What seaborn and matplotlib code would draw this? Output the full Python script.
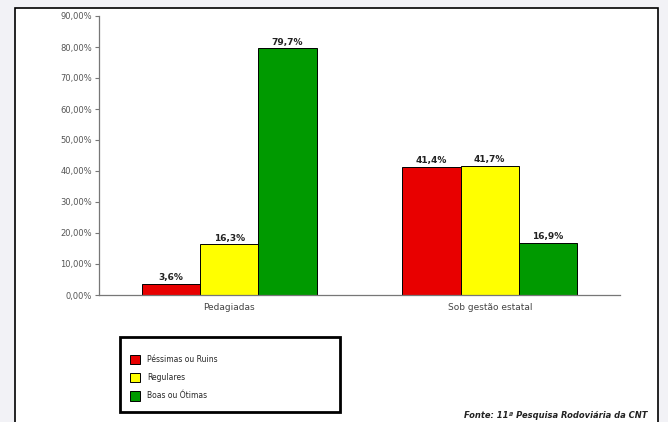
import matplotlib
matplotlib.use("Agg")
import matplotlib.pyplot as plt
import matplotlib.patches as mpatches
import pandas as pd
import seaborn as sns

categories = ["Pedagiadas", "Sob gestão estatal"]
conditions = ["Péssimas ou Ruins", "Regulares", "Boas ou Ótimas"]
pedagiadas = [3.6, 16.3, 79.7]
estatal = [41.4, 41.7, 16.9]
bar_labels = [["3,6%", "41,4%"], ["16,3%", "41,7%"], ["79,7%", "16,9%"]]
y_ticks = [0, 10, 20, 30, 40, 50, 60, 70, 80, 90]
colors = ["#e80000", "#ffff00", "#009a00"]

df = pd.DataFrame({
    "categoria": [categories[0]] * 3 + [categories[1]] * 3,
    "condicao": conditions * 2,
    "valor": pedagiadas + estatal,
})

sns.set_theme(style="white")
plt.rcParams["font.family"] = ["DejaVu Sans"]

fig = plt.figure(figsize=(6.68, 4.22), dpi=100, facecolor="#f2f2f6")
# white panel with black frame
fig.patches.append(mpatches.Rectangle((15 / 668, -0.05), 643 / 668, 1.05 - 8 / 422,
                                      transform=fig.transFigure, facecolor="white",
                                      edgecolor="black", linewidth=1.2, zorder=-1))

ax = fig.add_axes([99 / 668, 1 - 295 / 422, 521 / 668, 279 / 422])
ax.set_facecolor("none")
sns.barplot(data=df, x="categoria", y="valor", hue="condicao", order=categories,
            hue_order=conditions, palette=colors, width=0.67, edgecolor="black",
            linewidth=0.7, saturation=1, ax=ax, legend=True)

for cont, labs in zip(ax.containers, bar_labels):
    ax.bar_label(cont, labels=labs, fontsize=6.5, fontweight="bold", padding=1, color="#222222")

ax.set_ylim(0, 90)
ax.set_yticks(y_ticks)
ax.set_yticklabels([f"{v},00%" for v in y_ticks], fontsize=6, color="#555555")
ax.tick_params(axis="y", length=3, width=0.8, color="#777777", left=True, pad=2)
ax.tick_params(axis="x", length=0, labelsize=6.5, labelcolor="#444444", pad=6)
ax.set_xlabel("")
ax.set_ylabel("")
for s in ["top", "right"]:
    ax.spines[s].set_visible(False)
for s in ["left", "bottom"]:
    ax.spines[s].set_color("#777777")
    ax.spines[s].set_linewidth(0.9)

handles, labels = ax.get_legend_handles_labels()
ax.get_legend().remove()
fig.patches.append(mpatches.Rectangle((120 / 668, 1 - 412 / 422), 220 / 668, 75 / 422,
                                      transform=fig.transFigure, facecolor="white",
                                      edgecolor="black", linewidth=2))
fig.legend(handles, labels, loc="upper left", bbox_to_anchor=(130 / 668, 1 - 355 / 422),
           frameon=False, fontsize=5.5, handlelength=1.3, handleheight=1.5,
           labelspacing=1.15, handletextpad=0.9, borderpad=0, borderaxespad=0)

fig.text(648 / 668, 1 - 415 / 422, "Fonte: 11ª Pesquisa Rodoviária da CNT", ha="right",
         va="center", fontsize=6, fontweight="bold", fontstyle="italic", color="#222222")

fig.savefig("out.png", dpi=100, facecolor=fig.get_facecolor())
